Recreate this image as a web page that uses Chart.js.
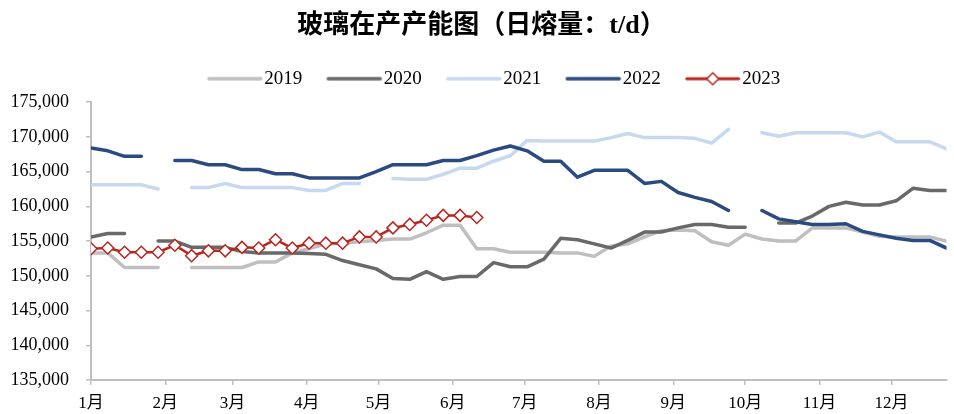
<!DOCTYPE html>
<html>
<head>
<meta charset="utf-8">
<script src="https://cdn.jsdelivr.net/npm/chart.js@4/dist/chart.umd.min.js"></script>
<style>
  html, body { margin: 0; padding: 0; background: #fff; }
  #wrap { width: 954px; height: 414px; position: relative; }
</style>
</head>
<body>
<div id="wrap"><canvas id="c"></canvas></div>
<script>
// week numbers (x) and month ticks
const weeks = [1,2,3,4,5,6,7,8,9,10,11,12,13,14,15,16,17,18,19,20,21,22,23,24,25,26,
               27,28,29,30,31,32,33,34,35,36,37,38,39,40,41,42,43,44,45,46,47,48,49,50,51,52];
const monthLabels = ['1月','2月','3月','4月','5月','6月','7月','8月','9月','10月','11月','12月'];
const monthStartDay = [0,31,59,90,120,151,181,212,243,273,304,334];

// 在产产能 t/d, weekly
const y2019 = [153300,153300,151200,151200,151200,null,151200,151200,151200,151200,
  152000,152000,153300,153900,154600,154700,154900,155100,155300,155300,
  156200,157300,157300,153900,153900,153400,153400,153400,153300,153300,
  152800,154300,154600,155600,156500,156600,156500,154900,154400,156000,
  155300,155000,155000,156900,156900,156900,156300,155700,155600,155600,
  155600,155000];
const y2020 = [155600,156100,156100,null,155000,155000,154100,154100,154100,153500,
  153300,153300,153300,153200,153100,152200,151600,151000,149600,149500,
  150600,149500,149900,149900,151900,151300,151300,152400,155400,155200,
  154600,154000,155100,156300,156300,156900,157400,157400,157000,157000,
  null,157600,157600,158600,160000,160600,160200,160200,160800,162600,
  162300,162300];
const y2021 = [163100,163100,163100,163100,162500,null,162700,162700,163300,162700,
  162700,162700,162700,162300,162300,163300,163300,null,164000,163900,
  163900,164600,165500,165500,166500,167300,169500,169400,169400,169400,
  169400,169900,170500,169900,169900,169900,169800,169100,171100,null,
  170600,170100,170600,170600,170600,170600,170000,170700,169300,169300,
  169300,168300];
const y2022 = [168400,168000,167200,167200,null,166600,166600,166000,166000,165300,
  165300,164700,164700,164100,164100,164100,164100,165000,166000,166000,
  166000,166600,166600,167300,168100,168700,168000,166500,166500,164200,
  165200,165200,165200,163300,163600,162000,161300,160700,159400,null,
  159400,158200,157800,157400,157400,157500,156400,155900,155400,155100,
  155100,154000];
const y2023 = [153900,154000,153400,153400,153400,154400,152900,153600,153600,154100,
  154000,155200,154000,154700,154700,154700,155600,155600,156900,157400,
  158000,158700,158700,158400];

const colors = {
  c2019: '#bfbfbf',
  c2020: '#696969',
  c2021: '#c6d9f0',
  c2022: '#2b4b80',
  c2023: '#b8271f'
};

// legend sample: canvas drawn centred on the legend box, line runs up to the text
function legendIcon(color, lw, diamond) {
  const c = document.createElement('canvas');
  c.width = 66; c.height = 16;
  const g = c.getContext('2d');
  g.strokeStyle = color;
  g.lineWidth = lw;
  g.lineCap = 'round';
  g.beginPath();
  g.moveTo(11, 8);
  g.lineTo(63, 8);
  g.stroke();
  if (diamond) {
    g.beginPath();
    g.moveTo(37, 2); g.lineTo(43, 8); g.lineTo(37, 14); g.lineTo(31, 8);
    g.closePath();
    g.fillStyle = '#fff';
    g.fill();
    g.lineWidth = 1.5;
    g.stroke();
  }
  return c;
}

Chart.defaults.font.family = "'Liberation Serif', 'Noto Sans CJK SC', serif";
Chart.defaults.color = '#000';

function line(label, data, color, width, order) {
  return {
    label: label,
    data: data,
    borderColor: color,
    backgroundColor: color,
    borderWidth: width,
    pointRadius: 0,
    tension: 0,
    spanGaps: false,
    borderCapStyle: 'round',
    borderJoinStyle: 'round',
    order: order
  };
}

const datasets = [
  line('2019', y2019, colors.c2019, 3.5, 5),
  line('2020', y2020, colors.c2020, 3.5, 4),
  line('2021', y2021, colors.c2021, 3.5, 3),
  line('2022', y2022, colors.c2022, 3.5, 2),
  Object.assign(line('2023', y2023, colors.c2023, 2.5, 1), {
    pointStyle: 'rectRot',
    pointRadius: 6,
    pointBorderWidth: 1.5,
    pointBackgroundColor: '#fff',
    pointBorderColor: colors.c2023
  })
];
const icons = [
  legendIcon(colors.c2019, 3.5, false),
  legendIcon(colors.c2020, 3.5, false),
  legendIcon(colors.c2021, 3.5, false),
  legendIcon(colors.c2022, 3.5, false),
  legendIcon(colors.c2023, 3, true)
];

// nudge the legend a bit right and up, like the original
const legendShift = {
  id: 'legendShift',
  afterLayout(chart) {
    const lg = chart.legend;
    lg.left += 12; lg.right += 12;
    lg.top -= 4; lg.bottom -= 4;
  }
};

new Chart(document.getElementById('c'), {
  type: 'line',
  data: { labels: weeks, datasets: datasets },
  plugins: [legendShift],
  options: {
    responsive: true,
    maintainAspectRatio: false,
    animation: false,
    layout: { padding: { left: 10, right: 1, top: 0, bottom: 0 } },
    plugins: {
      tooltip: { enabled: false },
      title: {
        display: true,
        text: '玻璃在产产能图（日熔量：t/d）',
        font: { size: 26, weight: 'bold' },
        padding: { top: 11, bottom: 7 }
      },
      legend: {
        position: 'top',
        labels: {
          usePointStyle: true,
          pointStyleWidth: 48,
          padding: 24,
          font: { size: 19 },
          generateLabels: (chart) => chart.data.datasets.map((ds, i) => ({
            text: ds.label,
            pointStyle: icons[i],
            fillStyle: 'transparent',
            strokeStyle: 'transparent',
            lineWidth: 0,
            hidden: false,
            datasetIndex: i
          }))
        }
      }
    },
    scales: {
      x: {
        type: 'linear',
        min: 1,
        max: 52,
        afterFit: (s) => { s.height = 34; },
        afterBuildTicks: (scale) => {
          scale.ticks = monthStartDay.map(d => ({ value: 1 + d / 7 }));
        },
        ticks: {
          autoSkip: false,
          maxRotation: 0,
          padding: 8,
          font: { size: 17 },
          callback: (v, i) => monthLabels[i]
        },
        grid: { drawOnChartArea: false, tickLength: 5, color: '#bfbfbf', lineWidth: 1.5 },
        border: { color: '#bfbfbf', width: 2 }
      },
      y: {
        min: 135000,
        max: 175000,
        afterFit: (s) => { s.width = 81; },
        ticks: {
          stepSize: 5000,
          padding: 17,
          font: { size: 18 },
          callback: (v) => v.toLocaleString('en-US')
        },
        grid: { drawOnChartArea: false, tickLength: 5, color: '#bfbfbf', lineWidth: 1.5 },
        border: { color: '#bfbfbf', width: 2 }
      }
    }
  }
});
</script>
</body>
</html>
